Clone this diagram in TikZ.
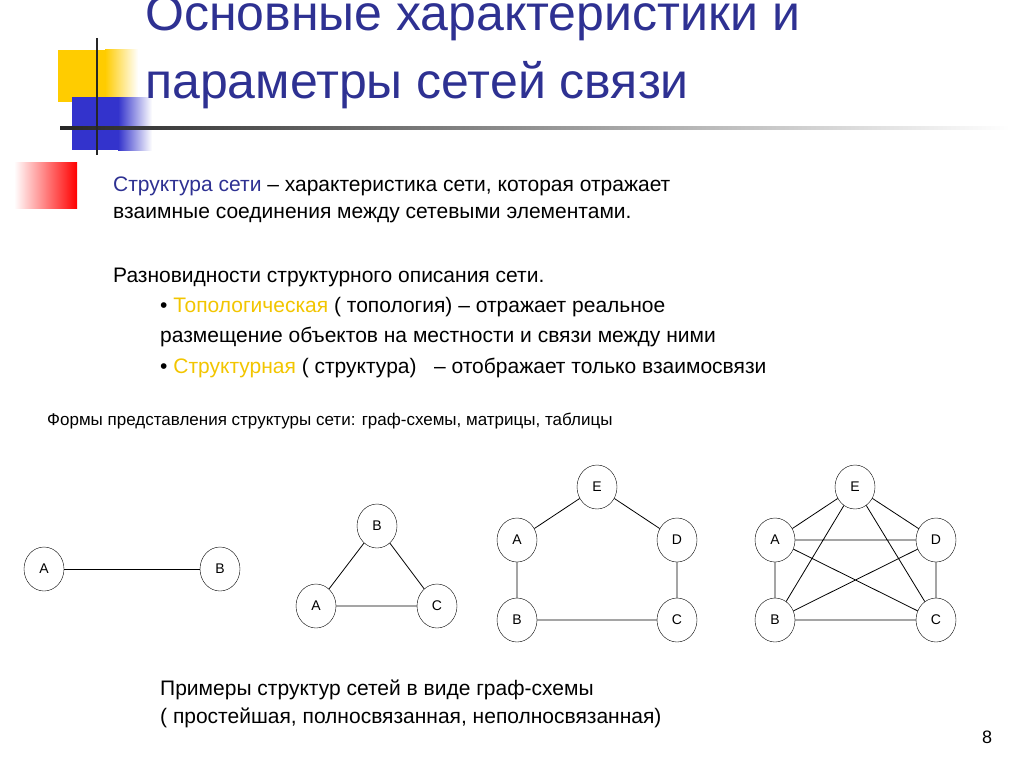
\documentclass[tikz,border=0pt]{standalone}
\usepackage{fontspec}
\setmainfont{Liberation Sans}
\usetikzlibrary{shapes.geometric}
\definecolor{tblue}{HTML}{2E3192}
\definecolor{tyel}{HTML}{F2C500}
\definecolor{dyel}{HTML}{FFCC00}
\definecolor{dblue}{HTML}{3333CC}
\begin{document}
\begin{tikzpicture}[x=1pt,y=-1pt,
  vtx/.style={draw,ellipse,minimum width=40pt,minimum height=44pt,inner sep=0pt,font=\fontsize{14}{16}\selectfont,fill=white},
  edge/.style={draw,line width=0.8pt},
  txt/.style={anchor=west,inner sep=0pt,font=\fontsize{21}{25}\selectfont}]
\useasboundingbox (0,0) rectangle (1024,768);
% decoration
\fill[dyel] (58,50) rectangle (105,102);
\shade[left color=dyel,right color=white] (105,50) rectangle (138,102);
\fill[dblue] (72,97) rectangle (118,150);
\shade[left color=dblue,right color=white] (118,97) rectangle (152,150);
\shade[left color=black!85,right color=white] (60,126) rectangle (1010,129);
\draw[line width=2.5pt,black!85] (97,38) -- (97,155);
\shade[left color=white,right color=red] (14,162) rectangle (77,208);
% title
\node[anchor=west,inner sep=0pt,text=tblue,font=\fontsize{50}{56}\selectfont] (t1) at (145,18) {Основные характеристики и};
\node[anchor=west,inner sep=0pt,text=tblue,font=\fontsize{50}{56}\selectfont] (t2) at (145,85) {параметры сетей связи};
% body
\node[txt] (l1) at (113,186) {\textcolor{tblue}{Структура сети} – характеристика сети, которая отражает};
\node[txt] (l2) at (113,215) {взаимные соединения между сетевыми элементами.};
\node[txt] (l3) at (113,277) {Разновидности структурного описания сети.};
\node[txt] (l4) at (160,307) {• \textcolor{tyel}{Топологическая} ( топология) – отражает реальное};
\node[txt] (l5) at (160,337) {размещение объектов на местности и связи между ними};
\node[txt] (l6) at (160,368) {• \textcolor{tyel}{Структурная} ( структура) \ \ – отображает только взаимосвязи};
\node[anchor=west,inner sep=0pt,font=\fontsize{17}{20}\selectfont] (l7) at (47,421) {Формы представления структуры сети: граф-схемы, матрицы, таблицы};
\node[txt] (c1) at (160,690) {Примеры структур сетей в виде граф-схемы};
\node[txt] (c2) at (160,718) {( простейшая, полносвязанная, неполносвязанная)};
\node[anchor=center,inner sep=0pt,font=\fontsize{18}{20}\selectfont] (pg) at (987,737) {8};
% graph 1
\node[vtx] (g1a) at (44,569) {A};
\node[vtx] (g1b) at (220,569) {B};
\draw[edge] (g1a) -- (g1b);
% graph 2
\node[vtx] (g2b) at (377,526) {B};
\node[vtx] (g2a) at (316,606) {A};
\node[vtx] (g2c) at (437,606) {C};
\draw[edge] (g2a) -- (g2b) (g2b) -- (g2c) (g2a) -- (g2c);
% graph 3
\node[vtx] (g3e) at (597,487) {E};
\node[vtx] (g3a) at (517,540) {A};
\node[vtx] (g3d) at (677,540) {D};
\node[vtx] (g3b) at (517,620) {B};
\node[vtx] (g3c) at (677,620) {C};
\draw[edge] (g3a) -- (g3e) (g3e) -- (g3d) (g3d) -- (g3c) (g3c) -- (g3b) (g3b) -- (g3a);
% graph 4
\node[vtx] (g4e) at (855,487) {E};
\node[vtx] (g4a) at (775,540) {A};
\node[vtx] (g4d) at (936,540) {D};
\node[vtx] (g4b) at (775,620) {B};
\node[vtx] (g4c) at (936,620) {C};
\draw[edge] (g4a) -- (g4e) (g4e) -- (g4d) (g4d) -- (g4c) (g4c) -- (g4b) (g4b) -- (g4a)
  (g4a) -- (g4d) (g4a) -- (g4c) (g4b) -- (g4e) (g4b) -- (g4d) (g4e) -- (g4c);
\end{tikzpicture}
\end{document}
